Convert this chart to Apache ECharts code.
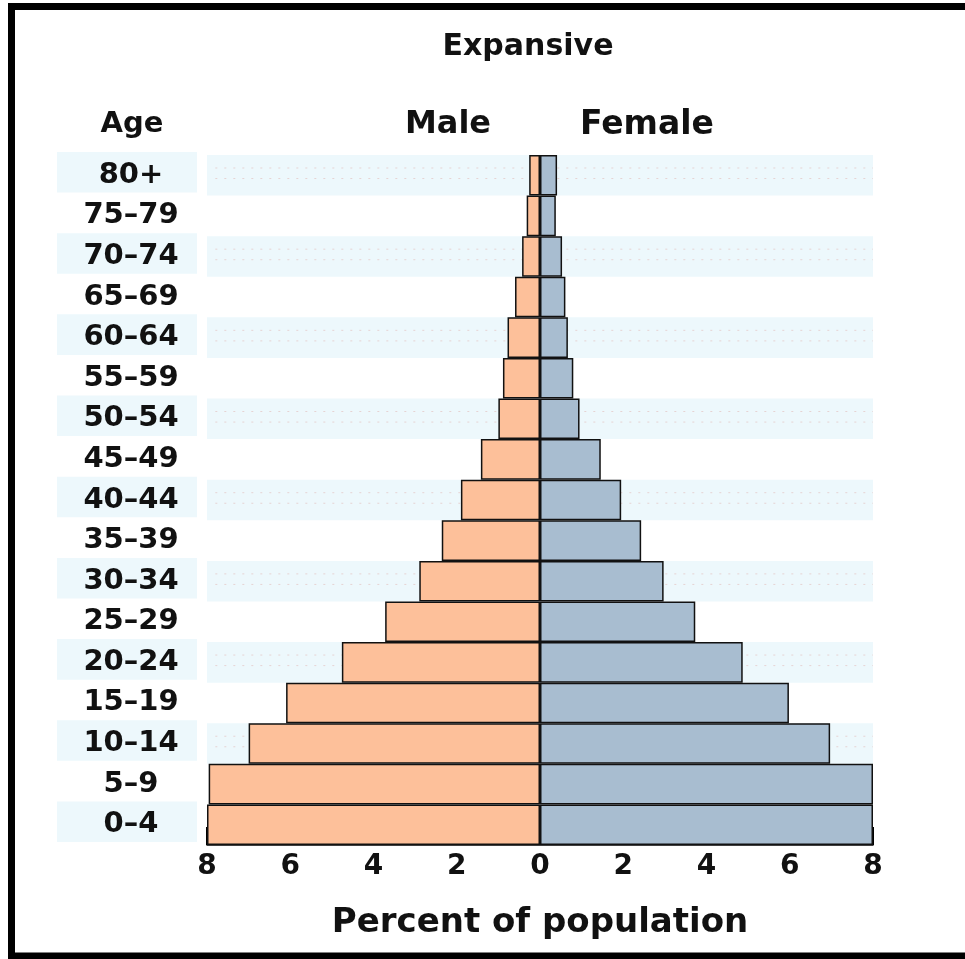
<!DOCTYPE html>
<html>
<head>
<meta charset="UTF-8">
<title>Expansive</title>
<script src="https://cdn.jsdelivr.net/npm/echarts@6/dist/echarts.min.js"></script>
<style>
  html, body { margin: 0; padding: 0; background: #fff; }
  #main { width: 965px; height: 959px; }
</style>
</head>
<body>
<div id="main"></div>
<script>
// age groups, bottom to top
var ages = ['0–4', '5–9', '10–14', '15–19', '20–24', '25–29', '30–34', '35–39',
            '40–44', '45–49', '50–54', '55–59', '60–64', '65–69', '70–74', '75–79', '80+'];
// percent of population
var male = [8.0, 7.96, 7.0, 6.1, 4.76, 3.72, 2.9, 2.36, 1.9, 1.42, 1.0, 0.89, 0.78, 0.6, 0.43, 0.32, 0.26];
var female = [8.0, 8.0, 6.97, 5.98, 4.87, 3.73, 2.97, 2.43, 1.95, 1.46, 0.95, 0.8, 0.67, 0.61, 0.53, 0.38, 0.41];
var xTicks = [-8, -6, -4, -2, 0, 2, 4, 6, 8];
// rows with the shaded band
var bandRows = [0, 2, 4, 6, 8, 10, 12, 14, 16];

var FONT = 'DejaVu Sans';
var chart = echarts.init(document.getElementById('main'));

var option = {
  backgroundColor: '#fff',
  animation: false,
  grid: [
    { left: 207, right: 92, top: 155, bottom: 114 },
    { left: 57, width: 140, top: 152, bottom: 117 }  // label band
  ],
  xAxis: [
    {
      type: 'value', gridIndex: 0,
      min: xTicks[0], max: xTicks[xTicks.length - 1], interval: 2,
      axisLine: { show: true, lineStyle: { color: '#000', width: 1.5 } },
      axisTick: { show: true, inside: true, length: 18, lineStyle: { color: '#000', width: 2 } },
      axisLabel: {
        color: '#111', fontFamily: FONT, fontWeight: 'bold', fontSize: 28, margin: 8,
        formatter: function (v) { return Math.abs(v); }
      },
      splitLine: { show: false },
      name: 'Percent of population', nameLocation: 'middle', nameGap: 61,
      nameTextStyle: { color: '#111', fontFamily: FONT, fontWeight: 'bold', fontSize: 34 }
    },
    { type: 'value', gridIndex: 1, show: false, min: 0, max: 1 }
  ],
  yAxis: [
    {
      type: 'category', gridIndex: 0, data: ages,
      axisLine: { show: false }, axisTick: { show: false },
      axisLabel: {
        align: 'center', margin: 76,
        color: '#111', fontFamily: FONT, fontWeight: 'bold', fontSize: 29
      },
      splitLine: { show: false },
      splitArea: { show: true, areaStyle: { color: ['#edf8fc', 'rgba(255,255,255,0)'] } }
    },
    {
      type: 'category', gridIndex: 1, data: ages,
      axisLine: { show: false }, axisTick: { show: false }, axisLabel: { show: false },
      splitArea: { show: true, areaStyle: { color: ['#edf8fc', 'rgba(255,255,255,0)'] } }
    }
  ],
  series: [
    {
      // faint dotted lines inside the shaded bands
      type: 'custom', xAxisIndex: 0, yAxisIndex: 0, z: 1, silent: true,
      data: bandRows.map(function (r) { return [0, r]; }),
      encode: { x: 0, y: 1 },
      renderItem: function (params, api) {
        var row = api.value(1);
        var c = api.coord([0, row]);
        var h = api.size([0, 1])[1];
        var x0 = api.coord([-7.8, row])[0], x1 = api.coord([8.0, row])[0];
        var style = { stroke: '#e6d3d3', lineWidth: 1, lineDash: [2, 7] };
        return {
          type: 'group',
          children: [
            { type: 'line', shape: { x1: x0, y1: c[1] - h * 0.18, x2: x1, y2: c[1] - h * 0.18 }, style: style },
            { type: 'line', shape: { x1: x0, y1: c[1] + h * 0.08, x2: x1, y2: c[1] + h * 0.08 }, style: style }
          ]
        };
      }
    },
    {
      name: 'Male', type: 'bar', xAxisIndex: 0, yAxisIndex: 0, z: 3,
      data: male.map(function (v) { return -v; }),
      barWidth: '100%', barGap: '-100%',
      itemStyle: { color: '#fdc09a', borderColor: '#111', borderWidth: 1.5 }
    },
    {
      name: 'Female', type: 'bar', xAxisIndex: 0, yAxisIndex: 0, z: 3,
      data: female,
      barWidth: '100%', barGap: '-100%',
      itemStyle: { color: '#a8bdd0', borderColor: '#111', borderWidth: 1.5 }
    }
  ],
  graphic: [
    { type: 'rect', z: 100, silent: true,
      shape: { x: 11.5, y: 6.5, width: 1000, height: 949.5 },
      style: { fill: 'none', stroke: '#000', lineWidth: 7 } },
    { type: 'text', x: 528, y: 47, style: { text: 'Expansive', textAlign: 'center', textVerticalAlign: 'middle',
      font: 'bold 30px "DejaVu Sans"', fill: '#111' } },
    { type: 'text', x: 132, y: 124, style: { text: 'Age', textAlign: 'center', textVerticalAlign: 'middle',
      font: 'bold 29px "DejaVu Sans"', fill: '#111' } },
    { type: 'text', x: 448, y: 125, style: { text: 'Male', textAlign: 'center', textVerticalAlign: 'middle',
      font: 'bold 32px "DejaVu Sans"', fill: '#111' } },
    { type: 'text', x: 647, y: 125, style: { text: 'Female', textAlign: 'center', textVerticalAlign: 'middle',
      font: 'bold 33px "DejaVu Sans"', fill: '#111' } }
  ]
};

chart.setOption(option);
</script>
</body>
</html>
